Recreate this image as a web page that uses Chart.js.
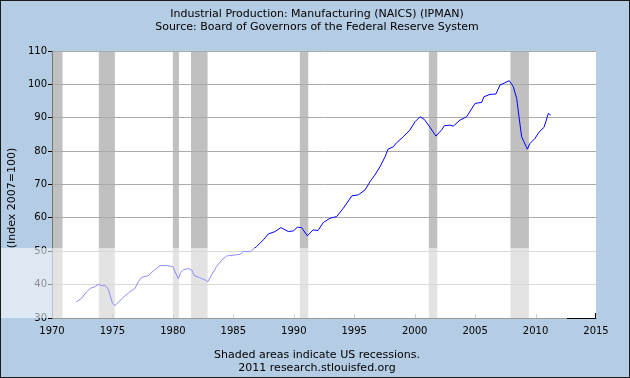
<!DOCTYPE html>
<html>
<head>
<meta charset="utf-8">
<script src="https://cdn.jsdelivr.net/npm/chart.js@4.4.1/dist/chart.umd.min.js"></script>
<style>
html,body{margin:0;padding:0;background:#b4cce4;}
canvas{display:block;}
</style>
</head>
<body>
<canvas id="c" width="630" height="378"></canvas>
<script>
// ---- data ----
const titleLines = ["Industrial Production: Manufacturing (NAICS) (IPMAN)", "Source: Board of Governors of the Federal Reserve System"];
const footerLines = ["Shaded areas indicate US recessions.", "2011 research.stlouisfed.org"];
const yAxisLabel = "(Index 2007=100)";
const xTicks = [1970, 1975, 1980, 1985, 1990, 1995, 2000, 2005, 2010, 2015];
const yTicks = [30, 40, 50, 60, 70, 80, 90, 100, 110];
const recessionStarts = [1969.92, 1973.87, 1980.0, 1981.5, 1990.5, 2001.17, 2007.92];
const recessionEnds   = [1970.87, 1975.2, 1980.5, 1982.87, 1991.2, 2001.87, 2009.45];
const years = [1972.0,1972.45,1972.87,1973.2,1973.56,1973.83,1974.1,1974.4,1974.66,1974.8,1975.0,1975.2,1975.5,1975.9,1976.45,1976.87,1977.14,1977.42,1977.97,1978.38,1978.93,1979.5,1980.0,1980.3,1980.45,1980.65,1980.9,1981.3,1981.55,1981.8,1982.2,1982.66,1982.9,1983.2,1983.62,1984.04,1984.45,1985.0,1985.55,1985.82,1986.4,1986.93,1987.48,1987.9,1988.45,1988.94,1989.55,1989.96,1990.3,1990.65,1991.12,1991.6,1992.0,1992.44,1993.0,1993.55,1994.1,1994.8,1995.34,1995.9,1996.3,1996.7,1997.13,1997.55,1997.8,1998.23,1998.5,1999.06,1999.6,2000.03,2000.44,2000.8,2001.2,2001.76,2002.24,2002.45,2002.92,2003.2,2003.75,2004.3,2005.0,2005.54,2005.73,2006.23,2006.72,2007.06,2007.47,2007.83,2008.16,2008.44,2008.63,2008.85,2009.04,2009.32,2009.54,2009.95,2010.31,2010.7,2011.06,2011.25];
const ipman = [34.8,35.9,37.9,38.9,39.4,40.1,39.7,39.7,38.6,36.9,34.4,33.7,34.7,36.2,37.9,38.9,40.9,42.2,42.7,44.1,45.7,45.7,45.4,42.9,41.7,43.7,44.5,44.8,44.4,42.6,42.1,41.4,40.9,42.9,45.4,47.4,48.6,48.8,49.1,49.9,49.9,51.4,53.4,55.2,55.9,57.1,55.9,56.1,57.2,57.1,54.6,56.4,56.2,58.6,59.9,60.4,62.9,66.6,66.9,68.4,70.8,72.8,75.3,78.3,80.6,81.3,82.5,84.3,86.3,88.8,90.3,89.5,87.5,84.5,86.4,87.6,87.8,87.5,89.3,90.3,94.3,94.6,96.3,97.0,97.1,99.8,100.5,101.1,99.3,95.8,90.3,84.3,82.8,80.6,82.3,83.8,85.8,87.1,91.3,90.8];

const BG = '#b4cce4';
const FONT = 'DejaVu Sans';

const decor = {
  id: 'decor',
  beforeDraw(chart) {
    const ctx = chart.ctx, a = chart.chartArea, xs = chart.scales.x;
    ctx.save();
    ctx.fillStyle = BG;
    ctx.fillRect(0, 0, chart.width, chart.height);
    ctx.fillStyle = '#ffffff';
    ctx.fillRect(a.left, a.top, a.right - a.left, a.bottom - a.top);
    ctx.fillStyle = '#c0c0c0';
    for (let i = 0; i < recessionStarts.length; i++) {
      const x0 = Math.max(a.left, xs.getPixelForValue(recessionStarts[i]));
      const x1 = Math.min(a.right, xs.getPixelForValue(recessionEnds[i]));
      ctx.fillRect(x0, a.top, x1 - x0, a.bottom - a.top);
    }
    ctx.restore();
  },
  afterDraw(chart) {
    const ctx = chart.ctx, a = chart.chartArea, xs = chart.scales.x;
    ctx.save();
    // inward x ticks
    ctx.strokeStyle = '#999999';
    ctx.lineWidth = 1;
    ctx.beginPath();
    xTicks.slice(1, -1).forEach(t => {
      const x = Math.round(xs.getPixelForValue(t)) + 0.5;
      ctx.moveTo(x, a.bottom); ctx.lineTo(x, a.bottom - 4);
    });
    ctx.stroke();
    // texts
    ctx.fillStyle = '#000000';
    ctx.font = '11px "' + FONT + '"';
    ctx.textAlign = 'center';
    ctx.textBaseline = 'middle';
    ctx.fillText(titleLines[0], 317, 14);
    ctx.fillText(titleLines[1], 317, 27);
    ctx.fillText(footerLines[0], 317, 355);
    ctx.fillText(footerLines[1], 317, 368);
    ctx.save();
    ctx.translate(12, 198);
    ctx.rotate(-Math.PI / 2);
    ctx.fillText(yAxisLabel, 0, 0);
    ctx.restore();
    // watermark band (ends at plot's right edge)
    ctx.fillStyle = 'rgba(255,255,255,0.55)';
    ctx.fillRect(0, 248, a.right, a.bottom - 248);
    // small black corner mark at bottom right of the plot
    ctx.strokeStyle = '#000000';
    ctx.beginPath();
    ctx.moveTo(a.right - 29, a.bottom + 0.5);
    ctx.lineTo(a.right - 0.5, a.bottom + 0.5);
    ctx.lineTo(a.right - 0.5, a.bottom - 5);
    ctx.stroke();
    // outer border
    ctx.strokeStyle = '#1a1a1a';
    ctx.strokeRect(0.5, 0.5, chart.width - 1, chart.height - 1);
    ctx.restore();
  }
};

Chart.defaults.font.family = FONT;
Chart.defaults.font.size = 10;
Chart.defaults.color = '#000000';

new Chart(document.getElementById('c'), {
  type: 'line',
  data: {
    datasets: [{
      data: years.map((x, i) => ({ x: x, y: ipman[i] })),
      borderColor: '#0000ff',
      borderWidth: 1,
      pointRadius: 0,
      tension: 0,
      fill: false
    }]
  },
  options: {
    responsive: false,
    animation: false,
    devicePixelRatio: 1,
    layout: { padding: { top: 51, right: 34, left: 0, bottom: 0 } },
    plugins: { legend: { display: false }, title: { display: false }, tooltip: { enabled: false } },
    scales: {
      x: {
        type: 'linear', min: 1970, max: 2015,
        afterBuildTicks: s => { s.ticks = xTicks.map(v => ({ value: v })); },
        afterFit: s => { s.height = 60; },
        ticks: { padding: 7, maxRotation: 0, autoSkip: false, callback: v => String(v) },
        grid: { drawOnChartArea: false, drawTicks: false },
        border: { color: '#999999' }
      },
      y: {
        min: 30, max: 110,
        afterBuildTicks: s => { s.ticks = yTicks.map(v => ({ value: v })); },
        afterFit: s => { s.width = 52; },
        ticks: { padding: 1, callback: v => String(v) },
        grid: { color: '#aaaaaa', tickColor: '#000000', tickLength: 4 },
        border: { color: '#777777' }
      }
    }
  },
  plugins: [decor]
});
</script>
</body>
</html>
